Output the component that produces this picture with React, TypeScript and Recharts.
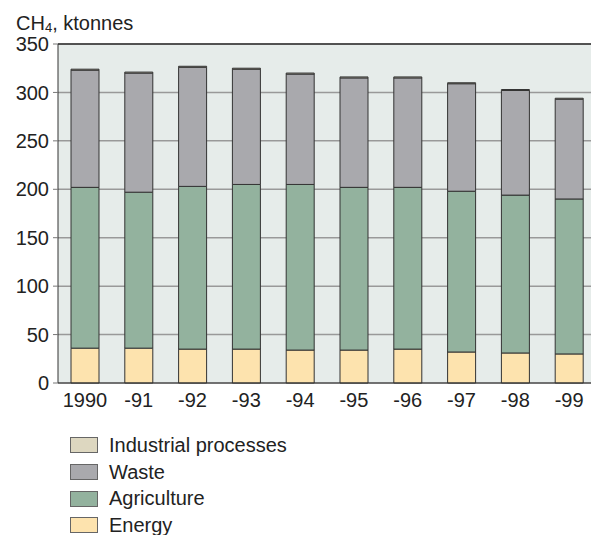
import React from 'react'
import { BarChart, Bar, CartesianGrid, XAxis, YAxis, ReferenceLine } from 'recharts'

const years = ['1990', '-91', '-92', '-93', '-94', '-95', '-96', '-97', '-98', '-99']
const energy = [36, 36, 35, 35, 34, 34, 35, 32, 31, 30]
const agriculture = [166, 161, 168, 170, 171, 168, 167, 166, 163, 160]
const waste = [121, 123, 123, 119, 114, 113, 113, 111, 108, 103]
const industrial = [1, 1, 1, 1, 1, 1, 1, 1, 1, 1]
const yTicks = [0, 50, 100, 150, 200, 250, 300, 350]

const series = [
 { key: 'energy', name: 'Energy', color: '#fde3ae' },
 { key: 'agriculture', name: 'Agriculture', color: '#93b29e' },
 { key: 'waste', name: 'Waste', color: '#a9a9ad' },
 { key: 'industrial', name: 'Industrial processes', color: '#ddd7c0' },
]

const data = years.map((year, i) => ({
 year,
 energy: energy[i],
 agriculture: agriculture[i],
 waste: waste[i],
 industrial: industrial[i],
}))

const font = '"Liberation Sans", Arial, sans-serif'

export default function App() {
 return (
 <div style={{ position: 'absolute', left: 0, top: 0, width: 591, height: 535, overflow: 'hidden', background: '#fff', fontFamily: font, color: '#222' }}>
 <div style={{ position: 'absolute', left: 16, top: 14, fontSize: 20, lineHeight: '18px' }}>
 CH<sub style={{ fontSize: 13, verticalAlign: -2, lineHeight: '10px' }}>4</sub>, ktonnes
 </div>
 <div style={{ position: 'absolute', left: 0, top: 0 }}>
 <BarChart width={596} height={420} data={data} margin={{ top: 44, right: 0, left: 0, bottom: 0 }} barSize={28}>
 <CartesianGrid vertical={false} stroke="#999" strokeWidth={1.5} fill="#e6ecea" />
 <XAxis
 dataKey="year"
 height={37}
 tickLine={false}
 tickSize={0}
 tickMargin={10}
 axisLine={{ stroke: '#333' }}
 tick={{ fill: '#222', fontSize: 20, fontFamily: font }}
 interval={0}
 />
 <YAxis
 width={58}
 domain={[0, 350]}
 ticks={yTicks}
 tickSize={5}
 tickMargin={4}
 tickLine={{ stroke: '#777' }}
 axisLine={{ stroke: '#333' }}
 tick={{ fill: '#222', fontSize: 20, fontFamily: font }}
 />
 <ReferenceLine y={350} stroke="#333" strokeWidth={1.5} />
 {series.map((s) => (
 <Bar key={s.key} dataKey={s.key} stackId="a" fill={s.color} stroke="#333" strokeWidth={1} isAnimationActive={false} />
 ))}
 </BarChart>
 </div>
 <div style={{ position: 'absolute', left: 70, top: 432 }}>
 {[...series].reverse().map((s) => (
 <div key={s.key} style={{ display: 'flex', alignItems: 'center', height: 26.7 }}>
 <div style={{ width: 26, height: 14, background: s.color, border: '1px solid #666', marginRight: 11 }} />
 <span style={{ fontSize: 20 }}>{s.name}</span>
 </div>
 ))}
 </div>
 </div>
 )
}
